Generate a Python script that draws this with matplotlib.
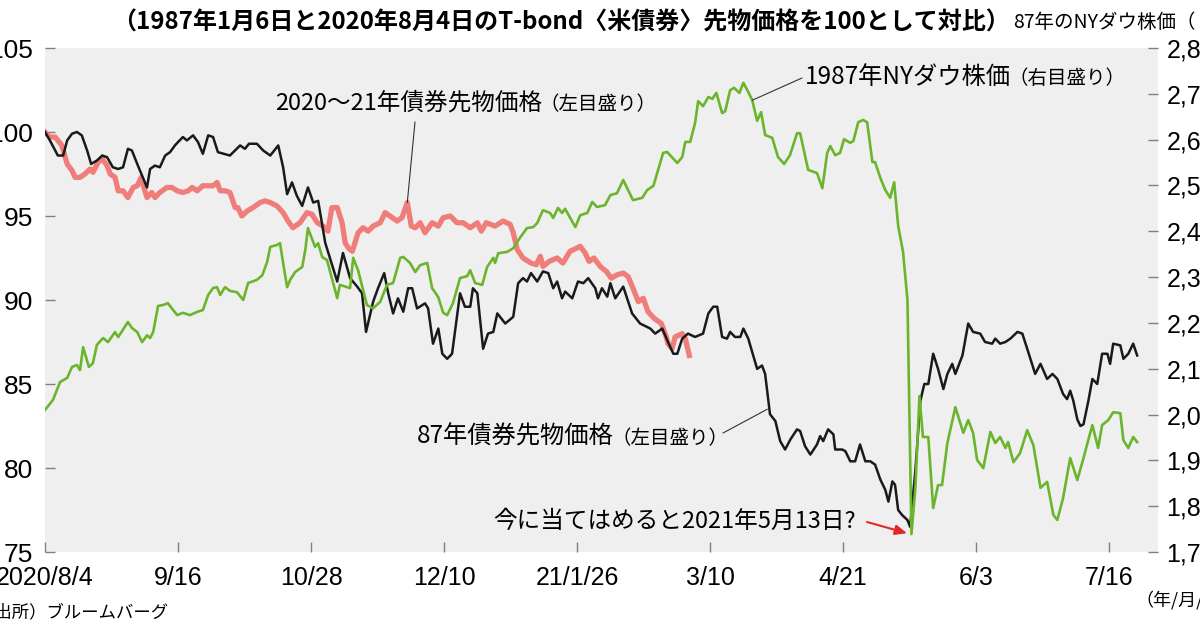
import matplotlib
matplotlib.use("Agg")
import matplotlib.pyplot as plt

plt.rcParams['font.family'] = ['Noto Sans CJK JP', 'DejaVu Sans']

# trading day count from the start (1987/1/6 and 2020/8/4 = day 0)
bond87_day = [0, 1.1, 2.9, 4.1, 5, 6.1, 7.2, 8.3, 9.5, 10.4,
              11.7, 12.9, 14, 15.3, 16.5, 17.6, 18.7, 19.6, 20.8, 21.9,
              23, 23.7, 24.8, 25.9, 27.1, 28.2, 29.3, 30, 31.1, 32,
              33.4, 34.5, 35.6, 36.8, 37.9, 39, 41.7, 44, 45.1, 46,
              47.8, 49.2, 50.8, 52.6, 53.7, 54.6, 55.7, 56.8, 58, 59.3,
              60.5, 61.6, 63.2, 65.9, 67.2, 68.8, 70.4, 71.5, 72.4, 74,
              75.1, 76.5, 77.4, 78.5, 79.6, 80.8, 81.9, 82.8, 83.9, 85.7,
              86.4, 87.5, 88.7, 89.6, 90.7, 91.8, 93.6, 94.7, 95.9, 96.5,
              97.5, 98.8, 99.9, 101.1, 102, 103.8, 105.6, 106.7, 107.8, 108.7,
              109.6, 111, 112.3, 113.5, 114.6, 115.5, 116.6, 117.3, 118.9, 120.2,
              121.4, 122.5, 124.1, 124.7, 125.6, 126.8, 127.5, 128.6, 130.4, 132.4,
              134.2, 136.5, 137.6, 139.2, 140.5, 141.7, 142.6, 143.7, 145, 146.6,
              148.4, 149.6, 150.7, 151.6, 152.7, 153.8, 154.5, 155.6, 156.8, 157.5,
              158.6, 159.7, 160.6, 161.7, 162.4, 163.5, 164.7, 165.8, 166.9, 168.1,
              169.6, 170.3, 171.4, 172.6, 174.1, 174.8, 175.5, 176.6, 177.8, 178.2,
              179.8, 180.5, 181.6, 182.7, 183.8, 185, 186.1, 187.2, 188.4, 189.5,
              190.2, 191.1, 191.7, 192.4, 193.3, 194.5, 195.1, 196.3, 197.4, 198.3,
              199.2, 200.3, 201.4, 202.6, 203.5, 204.6, 205.3, 206.9, 208.2, 209.3,
              210.9, 212, 213.6, 214.3, 215.4, 216.6, 217.7, 219.3, 220.4, 221.5,
              223.3, 224.5, 226, 227.2, 228.3, 229.6, 230.5, 231.2, 231.9, 232.8,
              233.5, 234.2, 235.3, 236.2, 237.3, 238.4, 239.6, 240.2, 240.9, 242.5,
              243.2, 244.3, 245.4, 246.3]
bond87 = [100.0, 99.5, 98.6, 98.6, 99.5, 99.9, 100.0, 99.8, 98.9, 98.1,
          98.3, 98.6, 98.5, 97.9, 97.8, 97.9, 99.0, 98.9, 98.1, 97.4,
          96.7, 97.8, 98.0, 97.9, 98.6, 98.8, 99.2, 99.4, 99.7, 99.5,
          99.8, 99.4, 98.7, 99.8, 99.7, 98.8, 98.6, 99.2, 99.0, 99.3,
          99.3, 98.9, 98.6, 99.2, 97.9, 96.3, 97.0, 96.2, 95.6, 96.7,
          95.8, 95.9, 93.4, 91.1, 92.8, 91.3, 90.8, 90.4, 88.1, 89.9,
          90.7, 91.6, 90.4, 89.2, 90.1, 89.3, 90.7, 90.7, 89.5, 89.8,
          89.5, 87.4, 88.3, 86.8, 86.5, 86.8, 90.4, 89.6, 89.6, 90.7,
          90.4, 87.1, 88.0, 88.1, 89.2, 88.6, 89.0, 91.0, 91.3, 91.1,
          91.6, 91.1, 91.7, 91.6, 90.7, 91.1, 90.1, 90.5, 90.1, 91.1,
          91.0, 91.3, 90.7, 90.1, 90.7, 90.2, 91.0, 90.1, 90.8, 89.2,
          88.6, 88.3, 88.0, 88.3, 87.5, 86.8, 86.8, 87.7, 88.0, 87.8,
          88.0, 89.2, 89.6, 89.6, 87.8, 87.7, 88.1, 87.8, 87.8, 88.3,
          87.7, 86.7, 85.9, 86.1, 85.6, 83.2, 82.8, 81.6, 81.1, 81.7,
          82.3, 82.2, 81.3, 80.8, 81.4, 81.9, 81.6, 82.3, 82.0, 81.1,
          81.1, 81.0, 80.4, 80.4, 81.4, 80.4, 80.4, 80.2, 79.3, 78.7,
          78.0, 79.2, 79.0, 77.5, 77.2, 76.9, 76.5, 79.9, 84.0, 85.0,
          85.0, 86.8, 85.9, 84.7, 85.6, 86.2, 85.6, 86.7, 88.6, 88.1,
          88.0, 87.5, 87.4, 87.7, 87.4, 87.5, 87.7, 88.1, 88.0, 87.1,
          85.6, 86.2, 85.3, 85.6, 85.3, 84.4, 84.1, 84.6, 84.0, 82.9,
          82.5, 82.6, 84.0, 85.3, 85.0, 86.8, 86.8, 86.2, 87.4, 87.3,
          86.5, 86.8, 87.4, 86.7]

bond20_day = [0, 1.1, 2.3, 3.8, 5, 6.1, 6.8, 7.9, 9, 10.2,
              10.8, 12, 12.9, 14, 14.7, 15.8, 16.5, 17.6, 18.7, 19.9,
              20.8, 21.7, 22.3, 23, 24.1, 24.8, 25.9, 27.5, 28.6, 29.8,
              31.1, 32.3, 33.2, 34.3, 35.6, 36.8, 37.9, 38.8, 39.5, 40.6,
              41.7, 42.9, 43.5, 44.4, 45.6, 46.9, 48.5, 49.6, 50.8, 52.3,
              53.7, 54.8, 55.9, 57.5, 59.1, 60.2, 61.4, 62.7, 63.8, 64.7,
              65.9, 67, 67.7, 68.4, 69.3, 70.6, 71.7, 72.9, 74, 75.6,
              76.7, 77.8, 79.4, 80.5, 81.7, 82.6, 83.5, 84.6, 85.7, 87.3,
              88.7, 89.8, 91.4, 92.9, 94.3, 95.9, 97.5, 98.4, 99.5, 101.5,
              103.3, 104.9, 105.6, 106.5, 107.8, 109.6, 110.8, 111.7, 112.3, 113.7,
              115.5, 116.8, 118.4, 120, 120.7, 121.8, 122.7, 123.8, 125.2, 126.6,
              127.7, 129, 130.4, 131.5, 132.6, 133.8, 134.9, 136, 137.4, 139,
              140.1, 140.5, 141.4, 142.1, 143.7, 144.4, 145.3]
bond20 = [100.0, 99.7, 99.7, 99.2, 98.1, 97.7, 97.3, 97.3, 97.5, 97.8,
          97.6, 98.2, 98.4, 98.0, 97.5, 97.3, 96.5, 96.5, 96.1, 96.7,
          96.8, 97.3, 96.7, 96.1, 96.4, 96.1, 96.4, 96.7, 96.7, 96.5,
          96.4, 96.5, 96.7, 96.5, 96.8, 96.8, 96.8, 97.0, 96.5, 96.5,
          96.4, 95.5, 95.5, 95.0, 95.3, 95.5, 95.8, 95.9, 95.8, 95.6,
          95.2, 94.7, 94.3, 94.6, 95.2, 95.1, 94.6, 94.4, 94.1, 95.5,
          95.5, 94.6, 93.4, 93.1, 92.9, 94.0, 94.3, 94.1, 94.4, 94.6,
          95.2, 95.0, 94.7, 94.9, 95.8, 94.4, 94.3, 94.6, 94.0, 94.6,
          94.4, 94.9, 95.0, 94.6, 94.6, 94.3, 94.6, 94.1, 94.6, 94.4,
          94.7, 94.5, 94.0, 93.0, 92.5, 92.2, 92.1, 92.6, 92.0, 92.3,
          92.5, 92.2, 92.9, 93.1, 93.2, 92.8, 92.3, 92.5, 92.0, 91.7,
          91.3, 91.5, 91.6, 91.4, 90.7, 89.9, 90.1, 89.3, 88.9, 88.6,
          87.8, 87.4, 87.1, 87.8, 88.0, 87.7, 86.7]

dow87_day = [0, 1.8, 3.4, 5, 6.1, 7.2, 7.9, 8.6, 9.9, 10.8,
             11.7, 13.1, 14.2, 15.8, 16.5, 18.7, 19.6, 20.8, 21.9, 23,
             23.7, 24.4, 25.5, 26.6, 27.7, 29.8, 31.1, 32.7, 34.3, 35.6,
             36.8, 37.9, 38.8, 39.5, 40.6, 41.7, 43.3, 44.7, 45.8, 47.8,
             49, 50.1, 50.8, 52.3, 53, 53.7, 54.6, 55.3, 56.4, 58,
             58.7, 59.3, 60.9, 61.6, 62.5, 63.6, 65.9, 66.5, 68.8, 69.5,
             70.6, 72.6, 74, 75.6, 77.1, 78.5, 80.1, 80.8, 82.3, 83.5,
             84.6, 86.2, 87.3, 88.7, 89.8, 90.7, 92, 93.6, 95.2, 95.9,
             97, 98.6, 99.7, 101.1, 101.5, 102.2, 104.2, 105.6, 107.2, 108.7,
             110.1, 111, 112.3, 113.9, 114.6, 115.7, 116.6, 117.3, 119.6, 120.7,
             122.3, 123.4, 124.5, 126.3, 127.5, 129, 130.4, 132.6, 134.7, 135.8,
             137.2, 139.4, 140.3, 142.6, 143.7, 144.4, 145.5, 146.6, 147.3, 148.4,
             149.6, 150.5, 151.4, 152.7, 153.4, 154.5, 155.4, 156.6, 157.5, 158.6,
             159.5, 160.6, 161.5, 162.4, 164, 165.3, 166.7, 168, 169.6, 170.3,
             172.1, 174.1, 175.3, 176.4, 177.1, 178.2, 179.3, 180.2, 181.6, 182.3,
             183.4, 184.5, 185.4, 186.6, 187.2, 188.4, 189.5, 190.6, 191.5, 192.4,
             193.5, 194.5, 195.4, 196.3, 197.2, 198, 199.2, 200.3, 201.4, 202.3,
             203.5, 205.3, 207.1, 208.2, 209.3, 210.2, 211.6, 213.2, 214.3, 215.4,
             216.6, 217.2, 218.4, 219.9, 221.5, 222.9, 224.5, 226, 227.4, 228.3,
             229.6, 231.2, 232.8, 234.2, 235.1, 236.2, 237.5, 238.4, 239.8, 240.9,
             242.5, 243.2, 244.3, 245.4, 246.3]
dow87 = [2010, 2032, 2071, 2080, 2104, 2108, 2097, 2147, 2104, 2112,
         2152, 2167, 2158, 2180, 2169, 2202, 2189, 2180, 2158, 2173,
         2167, 2180, 2237, 2239, 2243, 2217, 2222, 2217, 2224, 2228,
         2261, 2276, 2278, 2261, 2278, 2270, 2267, 2250, 2287, 2294,
         2304, 2333, 2366, 2370, 2374, 2331, 2278, 2294, 2311, 2322,
         2359, 2407, 2366, 2374, 2344, 2337, 2254, 2283, 2276, 2342,
         2315, 2239, 2232, 2246, 2283, 2287, 2342, 2344, 2331, 2311,
         2326, 2331, 2276, 2256, 2222, 2217, 2243, 2298, 2302, 2315,
         2287, 2283, 2322, 2342, 2331, 2352, 2355, 2363, 2387, 2407,
         2409, 2418, 2446, 2440, 2429, 2451, 2440, 2449, 2409, 2435,
         2440, 2464, 2453, 2457, 2479, 2483, 2512, 2468, 2473, 2490,
         2499, 2571, 2573, 2549, 2562, 2595, 2595, 2636, 2684, 2673,
         2693, 2689, 2702, 2658, 2662, 2708, 2713, 2702, 2724, 2704,
         2686, 2641, 2660, 2610, 2604, 2562, 2547, 2566, 2614, 2614,
         2534, 2527, 2494, 2571, 2586, 2566, 2571, 2601, 2593, 2597,
         2638, 2643, 2638, 2551, 2551, 2516, 2490, 2473, 2507, 2412,
         2355, 2250, 1739, 1842, 2040, 1951, 1951, 1796, 1846, 1846,
         1938, 2016, 1960, 1988, 1960, 1901, 1883, 1962, 1938, 1951,
         1927, 1940, 1896, 1916, 1966, 1933, 1840, 1853, 1781, 1770,
         1818, 1905, 1857, 1905, 1938, 1977, 1927, 1977, 1988, 2005,
         2003, 1944, 1927, 1951, 1940]

xtick_pos = [0, 30, 60, 90, 120, 150, 180, 210, 240]
xtick_labels = ['2020/8/4', '9/16', '10/28', '12/10', '21/1/26',
                '3/10', '4/21', '6/3', '7/16']
left_ticks = [75, 80, 85, 90, 95, 100, 105]
right_ticks = [1700, 1800, 1900, 2000, 2100, 2200, 2300, 2400, 2500, 2600, 2700, 2800]

W, H = 1200, 630


def fx(x):
    return x / W


def fy(y):
    return 1 - y / H


fig = plt.figure(figsize=(12, 6.3), dpi=100)
ax = fig.add_axes([fx(45), fy(552), fx(1158) - fx(45), fy(48) - fy(552)])
ax2 = ax.twinx()
ax.set_facecolor('#efefef')

ax.plot(bond20_day, bond20, color='#ef7d7a', lw=3.8, solid_joinstyle='round')
ax.plot(bond87_day, bond87, color='#1a1a1a', lw=1.8)
ax2.plot(dow87_day, dow87, color='#6bb52d', lw=1.9)

ax.set_xlim(0, 251)
ax.set_ylim(75, 105)
ax2.set_ylim(1700, 2800)

for a in (ax, ax2):
    for s in a.spines.values():
        s.set_visible(False)

ax.set_xticks(xtick_pos)
ax.set_xticklabels(xtick_labels, fontfamily='Liberation Sans', fontsize=18)
ax.set_yticks(left_ticks)
ax.set_yticklabels([str(v) for v in left_ticks], fontfamily='Liberation Sans', fontsize=19)
ax2.set_yticks(right_ticks)
ax2.set_yticklabels([f'{v:,}' for v in right_ticks], fontfamily='Liberation Sans', fontsize=18)

tick_col = '#808080'
ax.tick_params(axis='x', direction='in', length=7, width=1, color=tick_col, pad=10)
ax.tick_params(axis='y', direction='in', length=7, width=1, color=tick_col, pad=8.5)
ax2.tick_params(axis='y', direction='in', length=7, width=1, color=tick_col, pad=6)

# header texts
fig.text(fx(561), fy(22), '（1987年1月6日と2020年8月4日のT-bond〈米債券〉先物価格を100として対比）',
         ha='center', va='center', fontsize=17.3, fontweight='bold')
fig.text(fx(1013), fy(22), '87年のNYダウ株価（ドル）', ha='left', va='center', fontsize=14)
fig.text(fx(1135), fy(600), '（年/月/日）', ha='left', va='center', fontsize=13)
fig.text(fx(-22), fy(612), '（出所）ブルームバーグ', ha='left', va='center', fontsize=12.5)

# series labels with leader lines
line_kw = dict(arrowstyle='-', color='#333333', lw=0.8, shrinkA=0, shrinkB=0)

t1 = fig.text(fx(275), fy(103), '2020〜21年債券先物価格', ha='left', va='center', fontsize=17)
ax.annotate('（左目盛り）', xy=(0.99, 0.45), xycoords=t1, ha='left', va='center', fontsize=14)
ax.annotate('', xy=(81.7, 95.8), xytext=(fx(415), fy(122)), textcoords='figure fraction',
            arrowprops=line_kw)

t2 = fig.text(fx(805), fy(77), '1987年NYダウ株価', ha='left', va='center', fontsize=17.5)
ax.annotate('（右目盛り）', xy=(0.99, 0.45), xycoords=t2, ha='left', va='center', fontsize=14)
ax2.annotate('', xy=(159.5, 2686), xytext=(fx(802), fy(78)), textcoords='figure fraction',
             arrowprops=line_kw)

t3 = fig.text(fx(417), fy(437), '87年債券先物価格', ha='left', va='center', fontsize=17.5)
ax.annotate('（左目盛り）', xy=(0.99, 0.45), xycoords=t3, ha='left', va='center', fontsize=14)
ax.annotate('', xy=(162.9, 83.5), xytext=(fx(723), fy(433)), textcoords='figure fraction',
            arrowprops=line_kw)

fig.text(fx(493), fy(521), '今に当てはめると2021年5月13日?', ha='left', va='center', fontsize=17)
ax2.annotate('', xy=(194.4, 1741), xytext=(fx(867), fy(522)), textcoords='figure fraction',
             arrowprops=dict(arrowstyle='-|>,head_length=0.7,head_width=0.3', color='#e3262b',
                             lw=1.5, shrinkA=0, shrinkB=0))

fig.savefig('out.png', dpi=100)
